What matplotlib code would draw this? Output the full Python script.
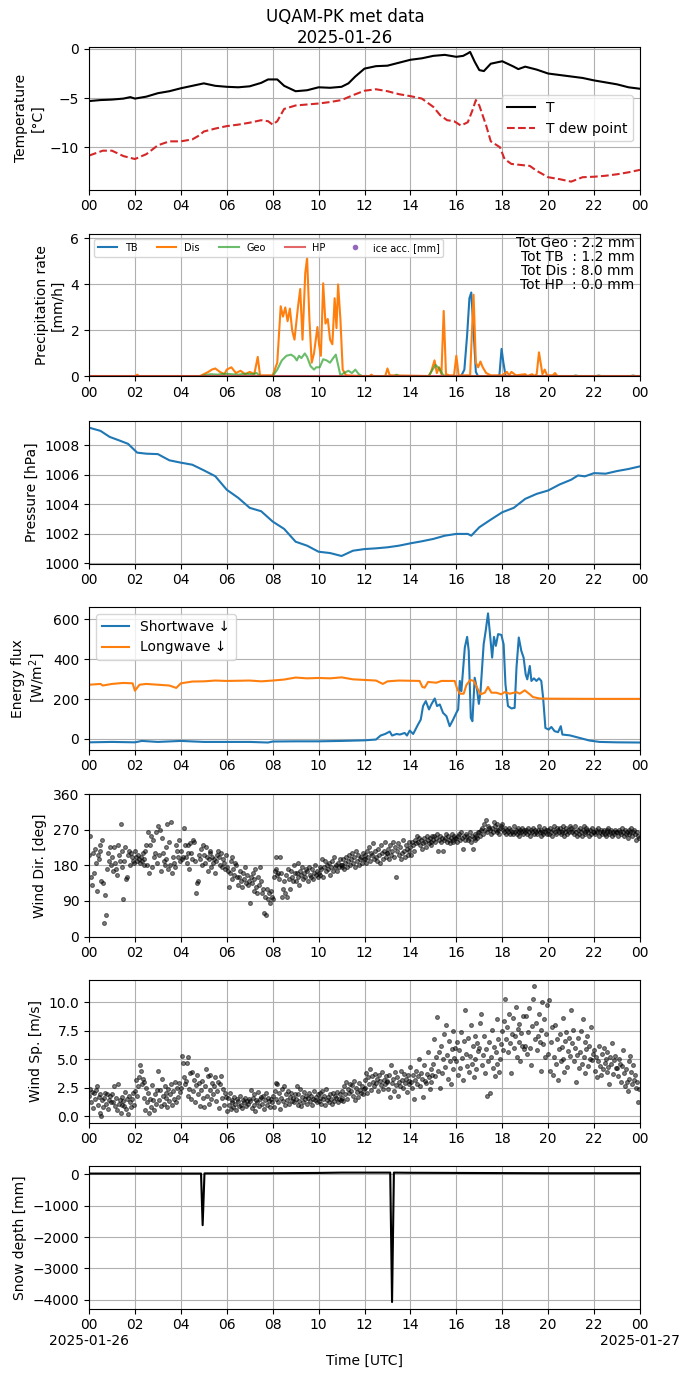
import numpy as np
import matplotlib
matplotlib.use("Agg")
import matplotlib.pyplot as plt
import matplotlib.dates as mdates
from matplotlib.ticker import FuncFormatter

# ---- data (hours since 2025-01-26 00 UTC) ----
t_h = [0, 0.5, 1, 1.5, 1.8, 2, 2.5, 3, 3.5, 4, 4.5, 5, 5.5, 6, 6.5, 7, 7.5, 7.8, 8.2, 8.5,
       9, 9.5, 10, 10.5, 11, 11.3, 11.6, 12, 12.5, 13, 13.5, 14, 14.5, 15, 15.5, 16, 16.3, 16.5, 16.6, 16.8,
       17.0, 17.2, 17.5, 18, 18.5, 18.7, 19, 19.5, 20, 20.5, 21, 21.5, 22, 22.5, 23, 23.5, 24]
temp = [-5.3, -5.2, -5.15, -5.05, -4.9, -5.05, -4.85, -4.5, -4.3, -4.0, -3.75, -3.5, -3.75, -3.85, -3.9, -3.8, -3.45, -3.1, -3.1, -3.75,
        -4.3, -4.2, -3.9, -3.95, -3.85, -3.5, -2.8, -2.0, -1.75, -1.7, -1.4, -1.1, -0.95, -0.7, -0.6, -0.8, -0.7, -0.45, -0.3, -1.3,
        -2.15, -2.25, -1.5, -1.25, -1.8, -2.05, -1.8, -2.1, -2.5, -2.65, -2.8, -2.95, -3.2, -3.4, -3.6, -3.9, -4.05]

td_h = [0, 0.6, 1.0, 1.5, 2.0, 2.5, 3, 3.5, 4, 4.5, 4.8, 5, 5.5, 6, 6.5, 7, 7.5, 7.8, 8.0, 8.2,
        8.5, 9, 9.5, 10, 10.5, 11, 11.5, 12, 12.5, 13, 13.5, 14, 14.5, 15, 15.3, 15.6, 15.9, 16.2, 16.5, 16.7,
        16.85, 17.0, 17.3, 17.5, 17.9, 18.1, 18.4, 18.8, 19.2, 19.5, 20, 20.5, 21, 21.5, 22, 22.5, 23, 23.5, 24]
tdew = [-10.85, -10.35, -10.35, -10.9, -11.2, -10.7, -9.8, -9.4, -9.4, -9.2, -8.8, -8.4, -8.1, -7.85, -7.7, -7.5, -7.25, -7.35, -7.7, -7.35,
        -6.1, -5.75, -5.65, -5.55, -5.4, -5.2, -4.7, -4.25, -4.1, -4.3, -4.6, -4.8, -5.05, -5.9, -6.75, -7.25, -7.35, -7.8, -7.45, -6.25,
        -5.2, -5.75, -7.8, -9.4, -10.0, -11.2, -11.7, -11.8, -11.9, -12.4, -13.05, -13.25, -13.5, -13.05, -13.0, -12.9, -12.75, -12.55, -12.3]

tb_h = [0, 16.2, 16.35, 16.47, 16.57, 16.65, 16.75, 16.85, 16.95, 17.8, 17.88, 17.97, 18.05, 18.15, 24]
tb_v = [0, 0, 0.3, 1.8, 3.4, 3.65, 2.0, 0.2, 0, 0, 0.1, 1.2, 0.6, 0, 0]

dis_h = [0, 2.0, 2.1, 2.2, 4.8, 5.0, 5.2, 5.35, 5.5, 5.7, 5.9, 6.0, 6.2, 6.4, 6.6, 6.8, 7.0, 7.2, 7.35, 7.45,
         8.0, 8.2, 8.35, 8.45, 8.55, 8.65, 8.75, 8.85, 8.95, 9.1, 9.2, 9.3, 9.42, 9.5, 9.6, 9.7, 9.8, 9.95, 10.02, 10.1,
         10.2, 10.3, 10.4, 10.5, 10.6, 10.7, 10.78, 10.85, 10.95, 11.05, 11.2, 12.2, 12.3, 12.4, 12.9, 13.0, 13.1, 14.8, 14.9, 15.05,
         15.15, 15.25, 15.35, 15.45, 15.55, 15.7, 15.9, 16.0, 16.1, 16.6, 16.75, 16.85, 16.95, 17.05, 17.15, 17.3, 17.5, 18.0, 18.2, 18.3,
         18.4, 18.6, 19.0, 19.1, 19.3, 19.4, 19.5, 19.6, 19.75, 19.85, 19.95, 20.2, 20.3, 20.4, 24]
dis_v = [0, 0, 0.08, 0, 0, 0.1, 0.2, 0.3, 0.35, 0.2, 0.1, 0.3, 0.4, 0.15, 0.25, 0.1, 0.2, 0.1, 0.85, 0.05,
         0.05, 0.6, 3.05, 2.6, 3.0, 2.4, 2.95, 2.0, 1.6, 3.0, 3.8, 1.6, 4.5, 5.15, 2.5, 0.6, 1.0, 2.15, 1.4, 0.9,
         4.05, 2.3, 2.5, 1.6, 1.4, 3.4, 2.1, 4.0, 2.5, 0.3, 0.05, 0, 0.08, 0, 0, 0.35, 0.05, 0.02, 0.2, 0.7,
         0.15, 0.4, 0.1, 2.85, 0.1, 0.05, 0.05, 0.9, 0.05, 0.05, 3.55, 0.6, 0.4, 0.65, 0.4, 0.15, 0.05, 0.05, 0.2, 0.05,
         0.2, 0.05, 0.1, 0.02, 0.1, 0.02, 0.1, 1.05, 0.1, 0.3, 0.05, 0.05, 0.15, 0.02, 0]

geo_h = [0, 4.8, 5.0, 5.3, 5.6, 5.9, 6.2, 6.5, 6.8, 7.1, 7.3, 7.45, 8.0, 8.2, 8.4, 8.6, 8.8, 8.95, 9.05, 9.15,
         9.25, 9.4, 9.5, 9.65, 9.8, 9.9, 10.05, 10.2, 10.35, 10.5, 10.6, 10.75, 10.85, 10.95, 11.1, 11.3, 11.45, 11.6, 11.75, 11.9,
         13.3, 13.4, 13.5, 14.8, 14.9, 15.1, 15.25, 15.4, 15.5, 21.1, 21.2, 21.3, 22.1, 22.2, 22.3, 23.6, 23.7, 23.8, 24]
geo_v = [0, 0, 0.05, 0.1, 0.08, 0.12, 0.1, 0.08, 0.12, 0.1, 0.15, 0.02, 0.02, 0.3, 0.7, 0.9, 0.95, 0.85, 0.7, 0.9,
         0.8, 1.0, 0.85, 0.45, 0.3, 0.4, 0.4, 0.75, 0.7, 0.6, 0.75, 0.95, 0.5, 0.05, 0.15, 0.25, 0.15, 0.3, 0.1, 0.02,
         0.02, 0.08, 0.02, 0.02, 0.2, 0.5, 0.35, 0.1, 0.02, 0.02, 0.05, 0.02, 0.02, 0.05, 0.02, 0.02, 0.05, 0.02, 0.02]

hp_h = [0, 24]
hp_v = [0, 0]

totals = {"Geo": 2.2, "TB": 1.2, "Dis": 8.0, "HP": 0.0}

p_h = [0, 0.5, 0.9, 1.3, 1.7, 1.9, 2.1, 2.5, 3.0, 3.5, 4.0, 4.5, 5.0, 5.5, 6.0, 6.5, 7.0, 7.5, 8.0, 8.5,
       9.0, 9.5, 10.0, 10.5, 11.0, 11.5, 12, 12.5, 13, 13.5, 14, 14.5, 15, 15.5, 16, 16.5, 16.65, 17.0, 17.5, 18,
       18.5, 19, 19.5, 20, 20.5, 21, 21.3, 21.6, 22, 22.5, 23, 23.5, 24]
pres = [1009.2, 1008.98, 1008.57, 1008.34, 1008.1, 1007.8, 1007.5, 1007.43, 1007.4, 1006.98, 1006.82, 1006.68, 1006.3, 1005.9, 1004.98, 1004.43, 1003.75, 1003.52, 1002.82, 1002.32,
        1001.45, 1001.18, 1000.77, 1000.68, 1000.48, 1000.84, 1000.95, 1001.0, 1001.07, 1001.18, 1001.34, 1001.48, 1001.64, 1001.86, 1001.98, 1001.98, 1001.86, 1002.43, 1002.95, 1003.45,
        1003.75, 1004.36, 1004.7, 1004.93, 1005.34, 1005.66, 1005.95, 1005.89, 1006.11, 1006.07, 1006.25, 1006.39, 1006.57]

sw_h = [0, 1, 2, 2.3, 3, 4, 5, 6, 7, 7.8, 8, 9, 10, 11, 12, 12.5, 12.7, 12.9, 13.1, 13.2,
        13.4, 13.54, 13.75, 13.85, 13.97, 14.12, 14.33, 14.45, 14.55, 14.67, 14.81, 14.91, 15.06, 15.16, 15.28, 15.42, 15.57, 15.71, 15.86, 16.0,
        16.08, 16.15, 16.22, 16.37, 16.47, 16.54, 16.63, 16.7, 16.8, 16.9, 16.98, 17.05, 17.19, 17.28, 17.38, 17.48, 17.56, 17.64, 17.72, 17.82,
        17.96, 18.06, 18.14, 18.25, 18.4, 18.54, 18.62, 18.72, 18.83, 18.93, 19.02, 19.09, 19.2, 19.27, 19.38, 19.49, 19.6, 19.7, 19.78, 19.88,
        20.02, 20.14, 20.28, 20.43, 20.55, 20.62, 20.94, 21.37, 21.8, 22.24, 22.97, 24]
sw_v = [-17, -15, -17, -10, -15, -10, -15, -15, -15, -18, -13, -12, -12, -10, -7, -3, 17, 25, 37, 17,
        25, 22, 30, 17, 42, 25, 72, 97, 165, 190, 148, 173, 203, 165, 173, 131, 114, 64, 97, 131,
        148, 291, 240, 459, 512, 442, 106, 89, 307, 249, 176, 232, 475, 543, 630, 509, 408, 512, 467, 526,
        522, 475, 274, 165, 153, 156, 358, 509, 442, 408, 324, 299, 366, 291, 304, 291, 304, 291, 207, 55,
        47, 60, 39, 34, 64, 22, 18, 5, -8, -15, -17, -18]

lw_h = [0, 0.5, 0.6, 1, 1.5, 1.9, 2.0, 2.2, 2.5, 3.0, 3.5, 3.8, 4.0, 4.5, 5.0, 5.5, 6, 7, 7.5, 8,
        8.5, 9.0, 9.5, 10.0, 10.5, 11.0, 11.5, 12, 12.5, 12.8, 13.0, 13.5, 14.4, 14.52, 14.62, 14.77, 15.13, 15.35, 15.93, 16.03,
        16.15, 16.32, 16.44, 16.61, 16.76, 16.9, 17.06, 17.24, 17.38, 17.53, 17.74, 17.96, 18.1, 18.33, 18.62, 18.76, 18.98, 19.2, 19.34, 19.63,
        20, 22, 24]
lw_v = [272, 276, 268, 276, 281, 279, 242, 272, 276, 272, 268, 256, 279, 288, 289, 293, 291, 293, 289, 293,
        298, 308, 304, 306, 304, 309, 299, 296, 293, 276, 289, 293, 291, 261, 257, 286, 282, 291, 291, 254,
        227, 227, 271, 296, 291, 257, 224, 232, 261, 232, 232, 224, 235, 227, 235, 227, 244, 224, 210, 203,
        202, 201, 201]

# wind, one value every 2.5 minutes (one row per hour)
wdir = [
    205, 255, 150, 130, 210, 160, 220, 185, 115, 205, 195, 230, 215, 140, 245, 135, 35, 105, 55, 170, 210, 190, 225, 180,
    200, 165, 225, 185, 170, 155, 230, 205, 190, 285, 215, 175, 95, 190, 225, 145, 150, 205, 215, 180, 210, 200, 190, 185,
    215, 200, 190, 205, 195, 185, 200, 190, 210, 180, 195, 215, 230, 180, 265, 160, 230, 255, 175, 245, 200, 210, 265, 185,
    280, 205, 270, 165, 250, 210, 190, 180, 225, 195, 285, 170, 240, 180, 290, 160, 200, 185, 175, 230, 215, 200, 245, 190,
    215, 195, 200, 275, 230, 200, 185, 230, 210, 170, 235, 210, 195, 245, 240, 190, 110, 135, 140, 205, 195, 220, 180, 230,
    205, 185, 225, 200, 165, 195, 215, 210, 175, 200, 185, 195, 160, 190, 205, 215, 200, 180, 210, 175, 195, 185, 170, 205,
    175, 165, 125, 160, 190, 200, 145, 170, 155, 185, 180, 150, 130, 150, 165, 140, 125, 160, 145, 175, 135, 155, 130, 140,
    85, 150, 135, 160, 115, 145, 170, 125, 110, 150, 130, 175, 140, 110, 120, 60, 100, 55, 120, 95, 110, 85, 115, 100,
    95, 150, 165, 170, 200, 155, 160, 145, 200, 160, 100, 120, 140, 110, 155, 100, 170, 145, 120, 165, 150, 140, 180, 160,
    140, 160, 150, 185, 130, 165, 155, 175, 145, 160, 150, 170, 165, 140, 175, 155, 150, 170, 145, 160, 180, 155, 165, 150,
    160, 175, 155, 170, 195, 150, 175, 190, 165, 180, 170, 185, 155, 175, 190, 165, 200, 175, 180, 165, 185, 175, 195, 180,
    180, 175, 195, 170, 185, 200, 175, 190, 205, 180, 195, 210, 185, 200, 175, 215, 190, 205, 180, 195, 200, 185, 210, 195,
    195, 205, 185, 215, 200, 225, 190, 210, 205, 235, 195, 215, 200, 190, 220, 205, 185, 230, 210, 195, 215, 240, 200, 210,
    210, 220, 195, 230, 205, 215, 240, 200, 225, 150, 215, 235, 205, 225, 195, 210, 245, 215, 200, 230, 220, 205, 240, 215,
    225, 205, 240, 230, 215, 245, 235, 255, 240, 250, 230, 245, 220, 235, 250, 240, 225, 255, 245, 235, 250, 240, 230, 255,
    245, 255, 240, 250, 260, 215, 245, 255, 240, 250, 215, 245, 250, 260, 240, 255, 245, 235, 250, 260, 245, 240, 255, 250,
    250, 240, 255, 260, 245, 265, 250, 220, 255, 245, 260, 255, 245, 250, 265, 240, 255, 220, 250, 260, 245, 255, 250, 265,
    265, 255, 270, 275, 260, 285, 270, 295, 265, 280, 275, 270, 260, 275, 265, 290, 280, 270, 265, 285, 270, 260, 275, 280,
    285, 270, 265, 275, 260, 270, 265, 275, 260, 270, 265, 258, 280, 265, 270, 260, 275, 265, 255, 270, 265, 275, 260, 270,
    265, 270, 260, 275, 265, 255, 270, 265, 275, 260, 270, 265, 260, 270, 280, 265, 255, 270, 265, 260, 275, 265, 270, 258,
    270, 260, 275, 265, 255, 270, 280, 265, 260, 275, 270, 265, 275, 260, 265, 280, 270, 255, 265, 275, 260, 270, 265, 280,
    275, 265, 270, 260, 280, 265, 255, 270, 260, 275, 265, 255, 270, 280, 265, 260, 275, 270, 265, 255, 270, 260, 275, 265,
    265, 260, 270, 265, 275, 255, 265, 270, 260, 265, 270, 260, 255, 270, 265, 275, 260, 265, 270, 255, 265, 260, 270, 265,
    265, 255, 270, 265, 260, 275, 265, 255, 270, 260, 265, 250, 270, 260, 265, 275, 255, 265, 270, 260, 245, 265, 255, 250,
]
wspd = [
    1.8, 2.4, 1.2, 2.1, 0.7, 2.0, 1.5, 2.3, 2.6, 1.0, 1.7, 0.3, 1.9, 0.0, 1.4, 0.8, 1.6, 2.0, 1.1, 1.9, 0.6, 1.4, 1.8, 1.2,
    1.9, 1.2, 2.6, 0.9, 1.6, 0.5, 2.8, 1.1, 1.4, 0.3, 1.7, 1.0, 1.3, 0.9, 2.1, 0.6, 1.5, 0.2, 1.8, 1.2, 0.8, 1.5, 2.0, 1.0,
    2.2, 3.2, 1.8, 2.6, 3.4, 4.5, 4.0, 2.8, 3.3, 1.6, 3.0, 0.5, 2.5, 1.2, 2.0, 0.3, 1.5, 0.8, 2.7, 1.4, 0.5, 1.9, 1.1, 2.3,
    4.0, 1.4, 2.3, 0.9, 3.3, 1.8, 1.1, 2.6, 1.6, 2.0, 0.8, 2.4, 1.3, 1.9, 2.8, 1.0, 2.2, 1.5, 3.0, 1.2, 2.5, 1.7, 2.9, 2.1,
    2.5, 5.3, 4.7, 3.4, 2.8, 3.1, 4.7, 5.2, 1.8, 2.4, 3.8, 1.5, 3.9, 2.2, 3.2, 1.2, 2.7, 3.6, 1.9, 2.9, 0.9, 2.3, 3.1, 1.6,
    0.8, 2.6, 4.1, 1.8, 3.5, 1.1, 2.3, 3.6, 1.5, 2.9, 1.9, 2.6, 3.4, 1.3, 2.2, 3.0, 0.7, 2.8, 3.5, 1.6, 2.4, 1.0, 2.0, 1.7,
    0.4, 1.6, 1.0, 2.0, 0.6, 1.4, 1.2, 0.8, 1.7, 1.1, 0.5, 1.5, 1.3, 0.9, 1.8, 1.0, 0.7, 1.4, 1.2, 1.6, 0.9, 1.3, 1.1, 1.5,
    1.3, 2.3, 0.7, 1.6, 1.0, 1.9, 0.4, 1.4, 1.2, 2.1, 0.9, 1.5, 1.7, 1.1, 1.8, 0.6, 1.4, 2.0, 1.0, 1.6, 1.3, 0.8, 1.5, 1.2,
    1.8, 0.8, 2.2, 2.9, 1.5, 2.8, 1.2, 2.0, 0.6, 1.6, 2.4, 1.3, 2.6, 1.0, 1.9, 1.4, 2.2, 1.1, 1.7, 2.0, 1.3, 1.6, 1.2, 1.9,
    1.5, 2.6, 1.0, 1.9, 1.3, 2.4, 0.9, 1.7, 1.2, 2.1, 1.5, 1.8, 1.1, 1.6, 2.0, 1.3, 1.8, 1.0, 1.5, 2.2, 1.4, 1.7, 1.2, 1.9,
    1.3, 2.0, 1.6, 1.1, 2.2, 1.5, 1.8, 1.0, 2.4, 1.4, 1.7, 1.2, 1.9, 1.5, 1.1, 2.0, 1.3, 1.8, 1.6, 2.1, 1.2, 1.5, 1.9, 1.4,
    1.6, 2.2, 1.3, 2.6, 1.9, 3.0, 1.5, 2.4, 2.0, 2.8, 2.2, 2.7, 1.8, 3.1, 1.4, 2.5, 2.1, 1.7, 2.9, 2.3, 2.0, 2.6, 1.9, 2.4,
    3.2, 2.5, 3.8, 2.0, 3.4, 2.8, 4.1, 2.3, 3.5, 3.0, 2.6, 3.7, 2.9, 3.3, 2.2, 3.6, 3.1, 2.7, 3.9, 2.4, 3.2, 2.8, 3.5, 3.0,
    3.1, 2.4, 3.6, 1.7, 4.5, 2.9, 3.3, 2.2, 3.9, 2.7, 3.4, 1.8, 3.0, 2.6, 4.0, 3.2, 2.5, 3.7, 2.9, 3.3, 2.1, 3.6, 2.8, 3.1,
    4.3, 3.0, 2.5, 3.6, 1.5, 3.2, 4.0, 2.8, 3.5, 5.0, 2.6, 3.8, 3.3, 1.7, 4.5, 3.1, 2.9, 3.7, 5.6, 3.4, 2.4, 4.1, 3.0, 3.6,
    4.6, 6.8, 3.5, 5.2, 8.7, 4.0, 5.6, 2.5, 6.2, 3.8, 5.0, 7.2, 4.3, 8.0, 5.4, 3.3, 6.6, 4.8, 2.8, 5.9, 4.1, 7.5, 5.1, 6.0,
    4.8, 6.5, 3.6, 5.8, 4.2, 7.4, 5.1, 3.2, 6.6, 9.3, 5.5, 4.4, 6.9, 3.9, 5.3, 8.0, 4.6, 6.2, 3.4, 7.0, 5.0, 4.1, 6.4, 5.7,
    6.0, 8.2, 9.0, 4.5, 5.4, 7.0, 3.8, 5.9, 1.8, 4.8, 6.5, 2.0, 5.2, 7.6, 4.2, 6.1, 3.5, 5.6, 8.5, 4.6, 6.8, 3.9, 5.0, 6.3,
    7.5, 5.8, 8.4, 10.3, 6.8, 7.8, 5.6, 9.0, 6.4, 3.8, 7.2, 8.6, 6.0, 7.0, 9.6, 5.2, 7.7, 6.5, 8.1, 4.8, 7.3, 6.2, 8.8, 5.9,
    6.2, 8.8, 5.5, 7.4, 9.5, 6.0, 4.5, 7.9, 10.3, 11.4, 6.8, 8.2, 5.8, 7.0, 9.0, 6.5, 4.0, 7.6, 10.0, 6.3, 8.5, 5.2, 7.2, 9.8,
    5.5, 10.2, 4.0, 6.5, 7.8, 3.6, 5.2, 8.0, 4.6, 6.8, 3.2, 5.9, 7.2, 4.8, 6.1, 8.6, 5.0, 3.9, 6.6, 7.4, 4.3, 5.7, 6.9, 5.3,
    9.3, 6.4, 7.6, 4.8, 6.0, 3.0, 5.4, 6.9, 4.2, 5.6, 7.5, 4.6, 8.5, 5.2, 6.5, 3.8, 5.9, 7.0, 4.4, 6.2, 5.0, 7.8, 4.9, 5.5,
    5.8, 4.0, 5.2, 3.4, 4.8, 6.2, 4.4, 3.6, 5.5, 4.1, 6.0, 4.7, 5.0, 3.9, 5.6, 4.3, 2.8, 5.2, 4.6, 6.4, 3.7, 4.9, 5.3, 4.2,
    4.2, 3.5, 5.0, 4.6, 3.0, 4.4, 5.8, 3.8, 2.6, 4.1, 3.0, 2.2, 4.8, 3.3, 5.3, 3.9, 2.8, 4.5, 3.2, 3.6, 2.5, 3.0, 1.2, 2.4,
]

snow_h = [0, 2, 4, 4.88, 4.95, 5.03, 6, 8, 10, 11, 12, 13.12, 13.2, 13.28, 14, 16, 18, 20, 22, 24]
snow_v = [25, 25, 25, 25, -1620, 30, 30, 35, 45, 55, 55, 55, -4070, 55, 50, 45, 40, 35, 35, 35]


day0 = np.datetime64("2025-01-26T00:00:00")


def to_time(hours):
    sec = np.round(np.asarray(hours, dtype=float) * 3600).astype("timedelta64[s]")
    return day0 + sec


wdir_t = to_time(np.arange(len(wdir)) * 24.0 / len(wdir))
wspd_t = to_time(np.arange(len(wspd)) * 24.0 / len(wspd))

fig = plt.figure(figsize=(6.9, 13.77), dpi=100)
tops = [47, 234, 421, 607, 794, 980, 1166]
axes = []
for top in tops:
    axes.append(fig.add_axes([89 / 690, (1377 - top - 142.5) / 1377, 551 / 690, 142.5 / 1377]))

fig.suptitle("UQAM-PK met data\n2025-01-26", y=0.994, va="top", fontsize=12)

# temperature
ax = axes[0]
ax.plot(to_time(t_h), temp, color="k", lw=1.5, label="T")
ax.plot(to_time(td_h), tdew, color="tab:red", ls="--", lw=1.5, label="T dew point")
ax.set_ylim(-14.3, 0.2)
ax.set_yticks([-10, -5, 0])
ax.set_ylabel("Temperature\n[°C]")
ax.legend(loc="center right")

# precipitation
ax = axes[1]
ax.plot(to_time(tb_h), tb_v, color="tab:blue", lw=1.5, label="TB")
ax.plot(to_time(dis_h), dis_v, color="tab:orange", lw=1.5, label="Dis")
ax.plot(to_time(geo_h), geo_v, color="tab:green", alpha=0.7, lw=1.5, label="Geo")
ax.plot(to_time(hp_h), hp_v, color="tab:red", alpha=0.7, lw=1.5, label="HP")
ax.plot([], [], "o", color="tab:purple", ms=3, label="ice acc. [mm]")
ax.set_ylim(0, 6.19)
ax.set_yticks([0, 2, 4, 6])
ax.set_ylabel("Precipitation rate\n[mm/h]")
ax.legend(loc="upper left", ncol=5, fontsize=7)
txt = "Tot Geo : %.1f mm\nTot TB  : %.1f mm\nTot Dis : %.1f mm\nTot HP  : %.1f mm" % (
    totals["Geo"], totals["TB"], totals["Dis"], totals["HP"])
ax.text(0.99, 0.985, txt, transform=ax.transAxes, ha="right", va="top", fontsize=10,
        linespacing=1.0)

# pressure
ax = axes[2]
ax.plot(to_time(p_h), pres, color="tab:blue", lw=1.5)
ax.set_ylim(999.97, 1009.65)
ax.set_yticks([1000, 1002, 1004, 1006, 1008])
ax.set_ylabel("Pressure [hPa]")

# radiation
ax = axes[3]
ax.plot(to_time(sw_h), sw_v, color="tab:blue", lw=1.5, label="Shortwave ↓")
ax.plot(to_time(lw_h), lw_v, color="tab:orange", lw=1.5, label="Longwave ↓")
ax.set_ylim(-53, 662)
ax.set_yticks([0, 200, 400, 600])
ax.set_ylabel("Energy flux\n[W/m$^2$]")
ax.legend(loc="upper left")

# wind direction
ax = axes[4]
ax.plot(wdir_t, wdir, "o", color="k", ms=2.8, mew=0.8, alpha=0.5)
ax.set_ylim(0, 360)
ax.set_yticks([0, 90, 180, 270, 360])
ax.set_ylabel("Wind Dir. [deg]")

# wind speed
ax = axes[5]
ax.plot(wspd_t, wspd, "o", color="k", ms=2.8, mew=0.8, alpha=0.5)
ax.set_ylim(-0.57, 11.97)
ax.set_yticks([0, 2.5, 5, 7.5, 10])
ax.set_ylabel("Wind Sp. [m/s]")

# snow depth
ax = axes[6]
ax.plot(to_time(snow_h), snow_v, color="k", lw=1.5)
ax.set_ylim(-4276, 266)
ax.set_yticks([-4000, -3000, -2000, -1000, 0])
ax.set_ylabel("Snow depth [mm]")
ax.set_xlabel("Time [UTC]")


def last_fmt(x, pos=None):
    d = mdates.num2date(x)
    if d.hour == 0:
        return d.strftime("%H\n%Y-%m-%d")
    return d.strftime("%H")


x0 = np.datetime64("2025-01-26T00:00")
x1 = np.datetime64("2025-01-27T00:00")
for i, ax in enumerate(axes):
    ax.set_xlim(x0, x1)
    ax.xaxis.set_major_locator(mdates.HourLocator(byhour=range(0, 24, 2)))
    if i == len(axes) - 1:
        ax.xaxis.set_major_formatter(FuncFormatter(last_fmt))
    else:
        ax.xaxis.set_major_formatter(mdates.DateFormatter("%H"))
    ax.grid(True)

fig.savefig("out.png", dpi=100)
